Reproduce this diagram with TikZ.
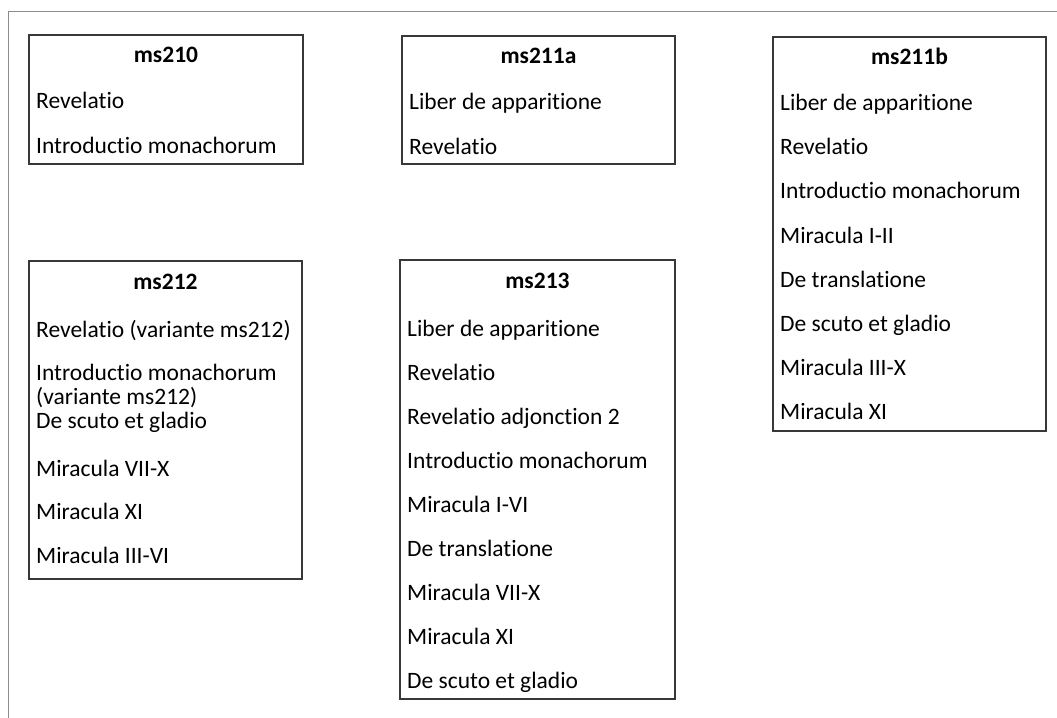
\documentclass[tikz,border=0pt]{standalone}
\usepackage{fontspec}
\setmainfont{Carlito}[Ligatures=NoCommon]
\begin{document}
\begin{tikzpicture}[x=1bp,y=-1bp,
  msbox/.style={draw=black!78, line width=1.3bp, inner sep=0pt, outer sep=0pt, anchor=north west, fill=white},
  mstitle/.style={anchor=base, inner sep=0pt, font=\fontsize{23.5bp}{27bp}\selectfont\bfseries},
  msitem/.style={anchor=base west, inner sep=0pt, font=\fontsize{23.5bp}{27bp}\selectfont},
  frameline/.style={draw=black!45, line width=1bp}]
\useasboundingbox (0,0) rectangle (1057,718);
\coordinate (fl) at (8.5,718);
\coordinate (fc) at (8.5,12);
\coordinate (fr) at (1057,12);
\draw[frameline] (fl) -- (fc) -- (fr);
% boxes
\node[msbox, minimum width=274bp, minimum height=129bp] (b210) at (29,35) {};
\node[msbox, minimum width=273bp, minimum height=128bp] (b211a) at (402,36) {};
\node[msbox, minimum width=273bp, minimum height=394bp] (b211b) at (773,37) {};
\node[msbox, minimum width=273bp, minimum height=318bp] (b212) at (29,261) {};
\node[msbox, minimum width=275bp, minimum height=439bp] (b213) at (400,260) {};
% ms210
\node[mstitle] (t210) at (166,63) {ms210};
\node[msitem] (a1) at (36,109) {Revelatio};
\node[msitem] (a2) at (36,154) {Introductio monachorum};
% ms211a
\node[mstitle] (t211a) at (538.5,64) {ms211a};
\node[msitem] (b1) at (409,110) {Liber de apparitione};
\node[msitem] (b2) at (409,155) {Revelatio};
% ms211b
\node[mstitle] (t211b) at (909.5,65) {ms211b};
\node[msitem] (c1) at (780,111) {Liber de apparitione};
\node[msitem] (c2) at (780,155) {Revelatio};
\node[msitem] (c3) at (780,199) {Introductio monachorum};
\node[msitem] (c4) at (780,243) {Miracula I-II};
\node[msitem] (c5) at (780,287) {De translatione};
\node[msitem] (c6) at (780,331) {De scuto et gladio};
\node[msitem] (c7) at (780,375) {Miracula III-X};
\node[msitem] (c8) at (780,419) {Miracula XI};
% ms212
\node[mstitle] (t212) at (165.5,289) {ms212};
\node[msitem] (d1) at (36,337) {Revelatio (variante ms212)};
\node[msitem] (d2) at (36,380) {Introductio monachorum};
\node[msitem] (d3) at (36,404) {(variante ms212)};
\node[msitem] (d4) at (36,428) {De scuto et gladio};
\node[msitem] (d5) at (36,476) {Miracula VII-X};
\node[msitem] (d6) at (36,519) {Miracula XI};
\node[msitem] (d7) at (36,563) {Miracula III-VI};
% ms213
\node[mstitle] (t213) at (537.5,288) {ms213};
\node[msitem] (e1) at (407,336) {Liber de apparitione};
\node[msitem] (e2) at (407,380) {Revelatio};
\node[msitem] (e3) at (407,424) {Revelatio adjonction 2};
\node[msitem] (e4) at (407,468) {Introductio monachorum};
\node[msitem] (e5) at (407,512) {Miracula I-VI};
\node[msitem] (e6) at (407,556) {De translatione};
\node[msitem] (e7) at (407,600) {Miracula VII-X};
\node[msitem] (e8) at (407,644) {Miracula XI};
\node[msitem] (e9) at (407,688) {De scuto et gladio};
\end{tikzpicture}
\end{document}
